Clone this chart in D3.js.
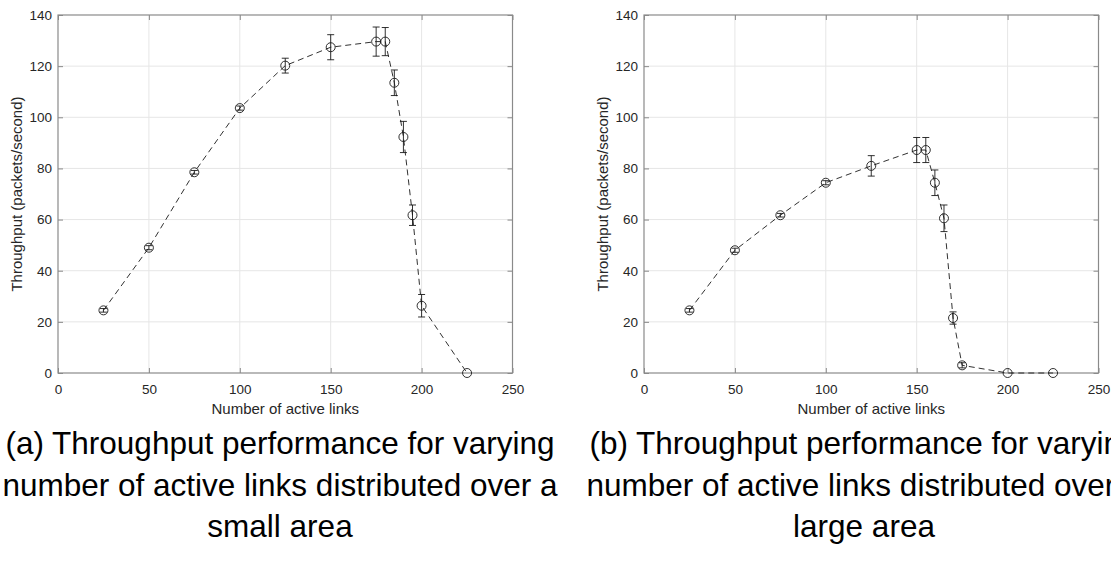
<!DOCTYPE html>
<html>
<head>
<meta charset="utf-8">
<script src="https://cdn.jsdelivr.net/npm/d3@7"></script>
<style>
  html, body { margin: 0; padding: 0; background: #fff; }
  svg { display: block; }
  text { font-family: "Liberation Sans", Arial, Helvetica, sans-serif; }
</style>
</head>
<body>
<svg id="fig" width="1111" height="570"></svg>
<script>
// Panel (a): links spread over a small area
const linksA      = [25, 50, 75, 100, 125, 150, 175, 180, 185, 190, 195, 200, 225];
const throughputA = [24.5, 49.0, 78.5, 103.6, 120.2, 127.4, 129.6, 129.6, 113.5, 92.3, 61.7, 26.3, 0];
const errorA      = [0.7, 0.8, 0.7, 0.8, 2.9, 4.9, 5.7, 5.5, 5.0, 6.1, 4.0, 4.4, 0];

// Panel (b): links spread over a large area
const linksB      = [25, 50, 75, 100, 125, 150, 155, 160, 165, 170, 175, 200, 225];
const throughputB = [24.5, 48.0, 61.7, 74.4, 81.0, 87.2, 87.2, 74.4, 60.5, 21.5, 3.0, 0, 0];
const errorB      = [0.7, 0.8, 0.7, 0.8, 4.0, 4.9, 4.9, 5.0, 5.2, 2.4, 1.0, 0, 0];

const xTicks = [0, 50, 100, 150, 200, 250];
const yTicks = [0, 20, 40, 60, 80, 100, 120, 140];
const xLabel = "Number of active links";
const yLabel = "Throughput (packets/second)";
const captionA = ["(a) Throughput performance for varying", "number of active links distributed over a", "small area"];
const captionB = ["(b) Throughput performance for varying", "number of active links distributed over a", "large area"];

const svg = d3.select("#fig");

function panel(opts) {
  const { left, right, top, bottom, xs, ys, es, caption, capX } = opts;
  const x = d3.scaleLinear().domain([0, 250]).range([left, right]);
  const y = d3.scaleLinear().domain([0, 140]).range([bottom, top]);
  const g = svg.append("g");

  // grid
  g.append("g").selectAll("line.gx").data(xTicks.slice(1, -1)).join("line")
    .attr("x1", d => x(d)).attr("x2", d => x(d)).attr("y1", top).attr("y2", bottom)
    .attr("stroke", "#e6e6e6").attr("stroke-width", 1);
  g.append("g").selectAll("line.gy").data(yTicks.slice(1, -1)).join("line")
    .attr("y1", d => y(d)).attr("y2", d => y(d)).attr("x1", left).attr("x2", right)
    .attr("stroke", "#e6e6e6").attr("stroke-width", 1);

  const tickLen = -5;
  const styleAxis = sel => {
    sel.select(".domain").remove();
    sel.selectAll(".tick line").attr("stroke", "#8a8a8a");
    sel.selectAll(".tick text").attr("fill", "#262626")
      .style("font-size", "13.5px").style("font-family", "'Liberation Sans', Arial, sans-serif");
  };

  g.append("g").attr("transform", `translate(0,${bottom})`)
    .call(d3.axisBottom(x).tickValues(xTicks).tickSize(tickLen).tickPadding(11))
    .call(styleAxis);
  g.append("g").attr("transform", `translate(${left},0)`)
    .call(d3.axisLeft(y).tickValues(yTicks).tickSize(tickLen).tickPadding(6))
    .call(styleAxis);
  g.append("g").attr("transform", `translate(0,${top})`)
    .call(d3.axisTop(x).tickValues(xTicks).tickSize(tickLen).tickFormat(""))
    .call(styleAxis);
  g.append("g").attr("transform", `translate(${right},0)`)
    .call(d3.axisRight(y).tickValues(yTicks).tickSize(tickLen).tickFormat(""))
    .call(styleAxis);

  // box
  g.append("rect").attr("x", left).attr("y", top)
    .attr("width", right - left).attr("height", bottom - top)
    .attr("fill", "none").attr("stroke", "#8a8a8a").attr("stroke-width", 1.2);

  const pts = xs.map((v, i) => ({ x: v, y: ys[i], e: es[i] }));

  // dashed connecting line
  g.append("path").datum(pts)
    .attr("d", d3.line().x(d => x(d.x)).y(d => y(d.y)))
    .attr("fill", "none").attr("stroke", "#1a1a1a").attr("stroke-width", 0.9)
    .attr("stroke-dasharray", "6,4");

  // error bars
  const cap = 3.5;
  const eb = g.append("g").attr("stroke", "#1a1a1a").attr("stroke-width", 0.9);
  eb.selectAll("line.v").data(pts.filter(d => d.e > 0)).join("line")
    .attr("x1", d => x(d.x)).attr("x2", d => x(d.x))
    .attr("y1", d => y(d.y - d.e)).attr("y2", d => y(d.y + d.e));
  eb.selectAll("line.t").data(pts.filter(d => d.e > 0)).join("line")
    .attr("x1", d => x(d.x) - cap).attr("x2", d => x(d.x) + cap)
    .attr("y1", d => y(d.y + d.e)).attr("y2", d => y(d.y + d.e));
  eb.selectAll("line.b").data(pts.filter(d => d.e > 0)).join("line")
    .attr("x1", d => x(d.x) - cap).attr("x2", d => x(d.x) + cap)
    .attr("y1", d => y(d.y - d.e)).attr("y2", d => y(d.y - d.e));

  // circle markers
  g.append("g").selectAll("circle").data(pts).join("circle")
    .attr("cx", d => x(d.x)).attr("cy", d => y(d.y)).attr("r", 4.5)
    .attr("fill", "none").attr("stroke", "#1a1a1a").attr("stroke-width", 0.9);

  // axis labels
  g.append("text").attr("x", (left + right) / 2).attr("y", 414)
    .attr("text-anchor", "middle").attr("fill", "#262626")
    .style("font-size", "15px").text(xLabel);
  g.append("text")
    .attr("transform", `translate(${left - 36},${(top + bottom) / 2}) rotate(-90)`)
    .attr("text-anchor", "middle").attr("fill", "#262626")
    .style("font-size", "15px").text(yLabel);

  // caption
  const baselines = [454, 496, 537];
  caption.forEach((line, i) => {
    svg.append("text").attr("x", capX).attr("y", baselines[i])
      .attr("text-anchor", "middle").attr("fill", "#000")
      .style("font-size", "31.5px").text(line);
  });
}

panel({ left: 58, right: 512.5, top: 15, bottom: 373,
        xs: linksA, ys: throughputA, es: errorA, caption: captionA, capX: 280 });
panel({ left: 644, right: 1098.5, top: 15, bottom: 373,
        xs: linksB, ys: throughputB, es: errorB, caption: captionB, capX: 864 });
</script>
</body>
</html>
